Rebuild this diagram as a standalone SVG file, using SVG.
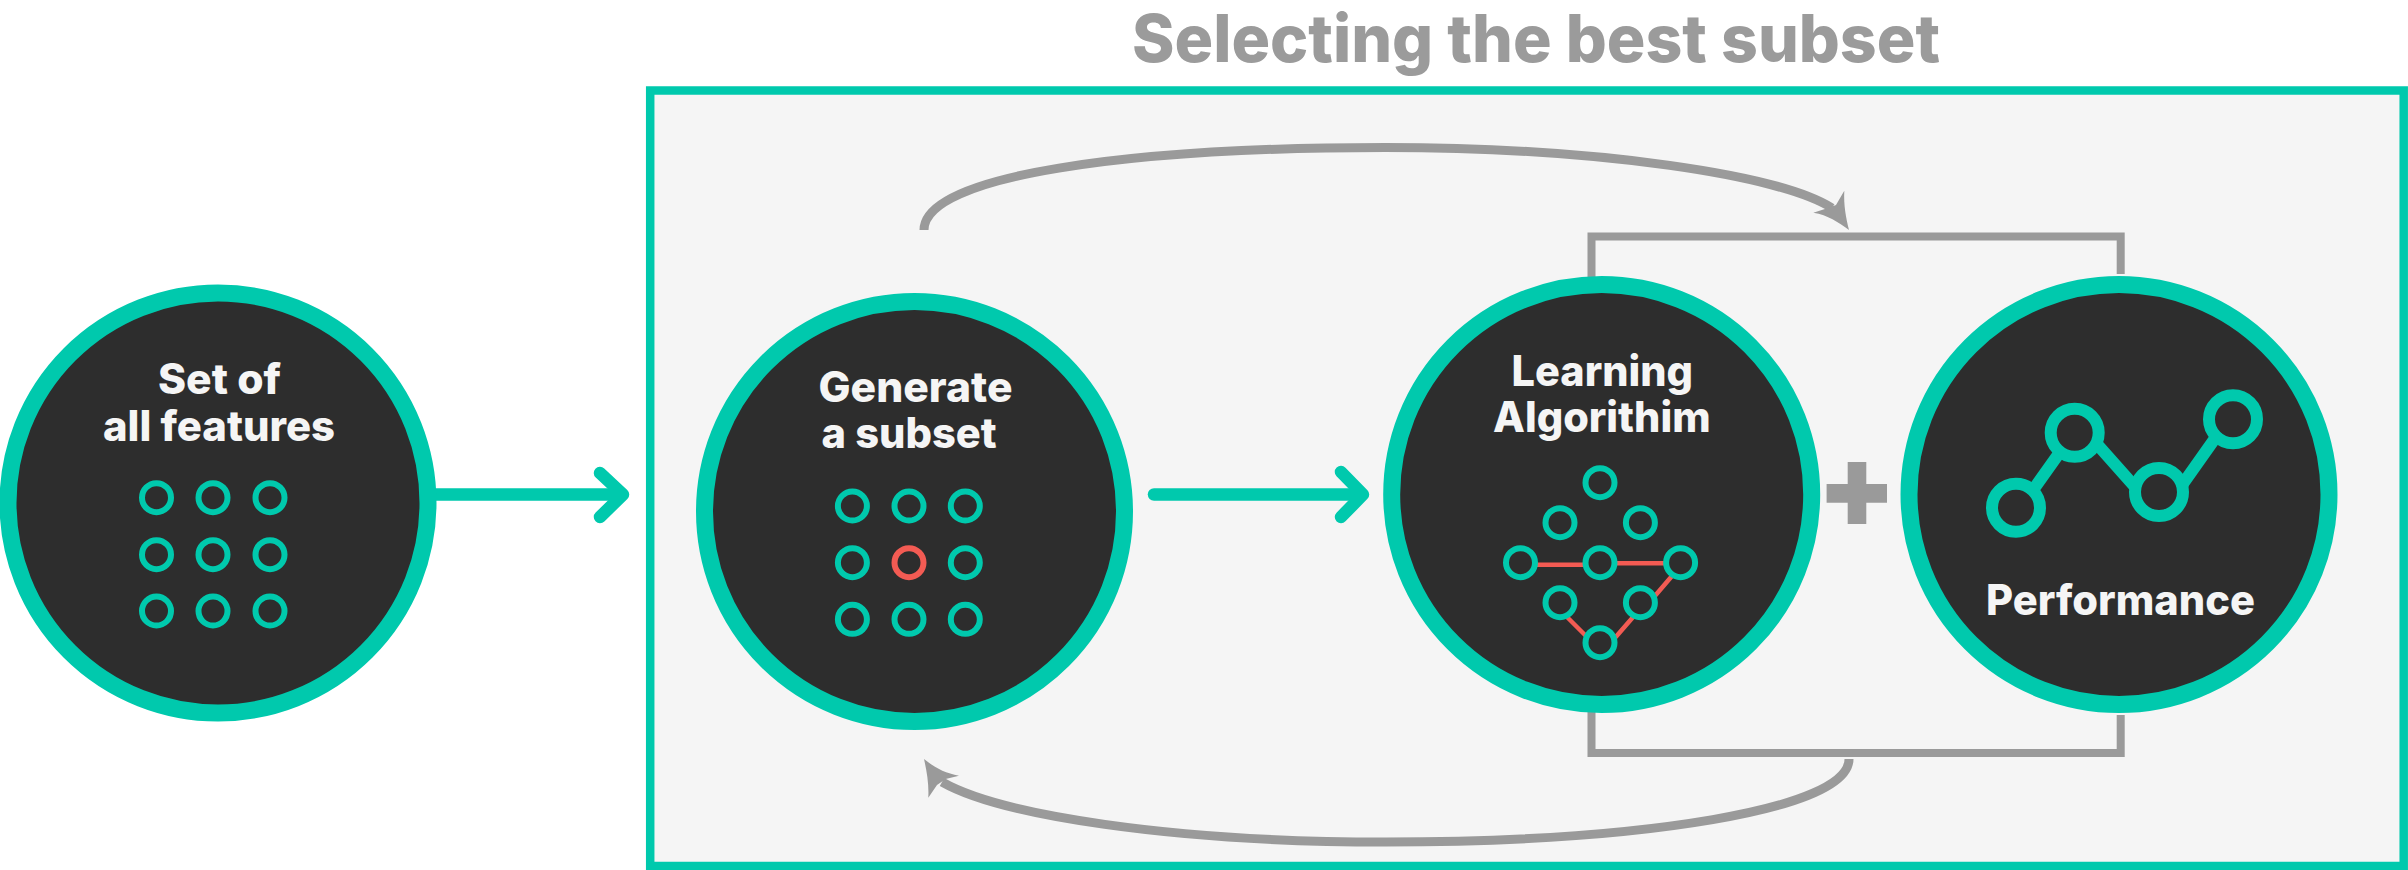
<svg xmlns="http://www.w3.org/2000/svg" width="2408" height="870" viewBox="0 0 2408 870">
  <defs>
    <style>
      .big { fill: #2d2d2d; stroke: #00c9ad; stroke-width: 17; }
      .dot { fill: none; stroke: #00c9ad; stroke-width: 6; }
      .red { fill: none; stroke: #f35b53; stroke-width: 6; }
      .link { fill: none; stroke: #f35b53; stroke-width: 4.5; }
      .perf { fill: none; stroke: #00c9ad; stroke-width: 12; }
      .flow { fill: none; stroke: #00c9ad; stroke-width: 12.5; stroke-linecap: round; stroke-linejoin: round; }
      .gray { fill: none; stroke: #9a9a9a; }
      .head { fill: #9a9a9a; }
      text { font-family: "Inter", "Liberation Sans", sans-serif; }
      .label { fill: #f5f5f5; font-size: 42px; font-weight: 800; }
      .title { fill: #9b9b9b; font-size: 66px; font-weight: 800; }
    </style>
  </defs>
  <rect width="2408" height="870" fill="#ffffff"/>
  <text class="title" x="1132" y="62" textLength="808" lengthAdjust="spacingAndGlyphs">Selecting the best subset</text>
  <rect id="frame" x="650.2" y="90.5" width="1753.5" height="775.5" fill="#f5f5f5" stroke="#00c9ad" stroke-width="8.5"/>

  <g id="connectors">
    <path class="flow" stroke-linecap="butt" d="M430,494.5H618"/>
    <path class="flow" d="M600,473L623,494.5L600,517"/>
    <path class="flow" d="M1154,494.5H1358"/>
    <path class="flow" d="M1341,472L1363,494.5L1341,517"/>
    <path class="gray" stroke-width="8" d="M1591.5,280V236.5H2120.7V274"/>
    <path class="gray" stroke-width="8" d="M1591.5,710V753H2120.7V715"/>
    <path class="gray" stroke-width="9" d="M924,230C924,175 1130,147.5 1385,147.5C1600,147.5 1780,175 1832,208"/>
    <path class="head" d="M1844.3,190.7C1843.5,205 1846,218 1849,230C1838,222 1828,215 1813.3,212.7L1828,208L1836,205Z"/>
    <path class="gray" stroke-width="9" d="M1849,759C1849,810 1640,842 1386,842C1170,842 1000,815 942,782"/>
    <path class="head" d="M924,759C935,768 945,773 959,775.7L945.7,779L937,785L928.3,797.7C929,785 927,772 924,759Z"/>
    <path class="head" d="M1847.7,462H1866.3V484H1887V502.7H1866.3V524H1847.7V502.7H1826.6V484H1847.7Z"/>
  </g>

  <g id="node-all-features">
    <circle class="big" cx="218" cy="503" r="210"/>
    <text class="label" x="158" y="394" textLength="123" lengthAdjust="spacingAndGlyphs">Set of</text>
    <text class="label" x="103" y="441" textLength="232" lengthAdjust="spacingAndGlyphs">all features</text>
    <g>
      <circle class="dot" cx="156.5" cy="497.7" r="14.5"/><circle class="dot" cx="213" cy="497.7" r="14.5"/><circle class="dot" cx="270" cy="497.7" r="14.5"/>
      <circle class="dot" cx="156.5" cy="554.7" r="14.5"/><circle class="dot" cx="213" cy="554.7" r="14.5"/><circle class="dot" cx="270" cy="554.7" r="14.5"/>
      <circle class="dot" cx="156.5" cy="611" r="14.5"/><circle class="dot" cx="213" cy="611" r="14.5"/><circle class="dot" cx="270" cy="611" r="14.5"/>
    </g>
  </g>

  <g id="node-generate-subset">
    <circle class="big" cx="914.5" cy="511.5" r="210"/>
    <text class="label" x="818.5" y="401.5" textLength="194" lengthAdjust="spacingAndGlyphs">Generate</text>
    <text class="label" x="821.6" y="448" textLength="175" lengthAdjust="spacingAndGlyphs">a subset</text>
    <g>
      <circle class="dot" cx="852.4" cy="506" r="14.5"/><circle class="dot" cx="909" cy="506" r="14.5"/><circle class="dot" cx="965.3" cy="506" r="14.5"/>
      <circle class="dot" cx="852.4" cy="562.7" r="14.5"/><circle class="red" cx="909" cy="562.7" r="14.5"/><circle class="dot" cx="965.3" cy="562.7" r="14.5"/>
      <circle class="dot" cx="852.4" cy="619.3" r="14.5"/><circle class="dot" cx="909" cy="619.3" r="14.5"/><circle class="dot" cx="965.3" cy="619.3" r="14.5"/>
    </g>
  </g>

  <g id="node-learning-algorithm">
    <circle class="big" cx="1601.7" cy="494.5" r="210"/>
    <text class="label" x="1511.6" y="385.7" textLength="181.4" lengthAdjust="spacingAndGlyphs">Learning</text>
    <text class="label" x="1493" y="431.7" textLength="217.6" lengthAdjust="spacingAndGlyphs">Algorithim</text>
    <path class="link" d="M1534,564.7H1587M1614,563.3H1667M1672,576L1654,597M1634,616L1614,639M1566,616L1587,637"/>
    <g>
      <circle class="dot" cx="1600" cy="482.7" r="14.5"/>
      <circle class="dot" cx="1560" cy="522.7" r="14.5"/><circle class="dot" cx="1640.4" cy="522.7" r="14.5"/>
      <circle class="dot" cx="1520.5" cy="562.7" r="14.5"/><circle class="dot" cx="1600" cy="562.7" r="14.5"/><circle class="dot" cx="1680.6" cy="562.7" r="14.5"/>
      <circle class="dot" cx="1560" cy="602.7" r="14.5"/><circle class="dot" cx="1640.4" cy="602.7" r="14.5"/>
      <circle class="dot" cx="1600" cy="642.7" r="14.5"/>
    </g>
  </g>

  <g id="node-performance">
    <circle class="big" cx="2119" cy="494.5" r="210"/>
    <text class="label" x="1986" y="615" textLength="269" lengthAdjust="spacingAndGlyphs">Performance</text>
    <path class="perf" d="M2033,490L2060,452M2096,443L2136,488M2181,486.5L2216,437"/>
    <circle class="perf" cx="2016" cy="507.7" r="24"/>
    <circle class="perf" cx="2074.7" cy="432.7" r="24"/>
    <circle class="perf" cx="2159" cy="492" r="24"/>
    <circle class="perf" cx="2233" cy="419.3" r="24"/>
  </g>
</svg>
